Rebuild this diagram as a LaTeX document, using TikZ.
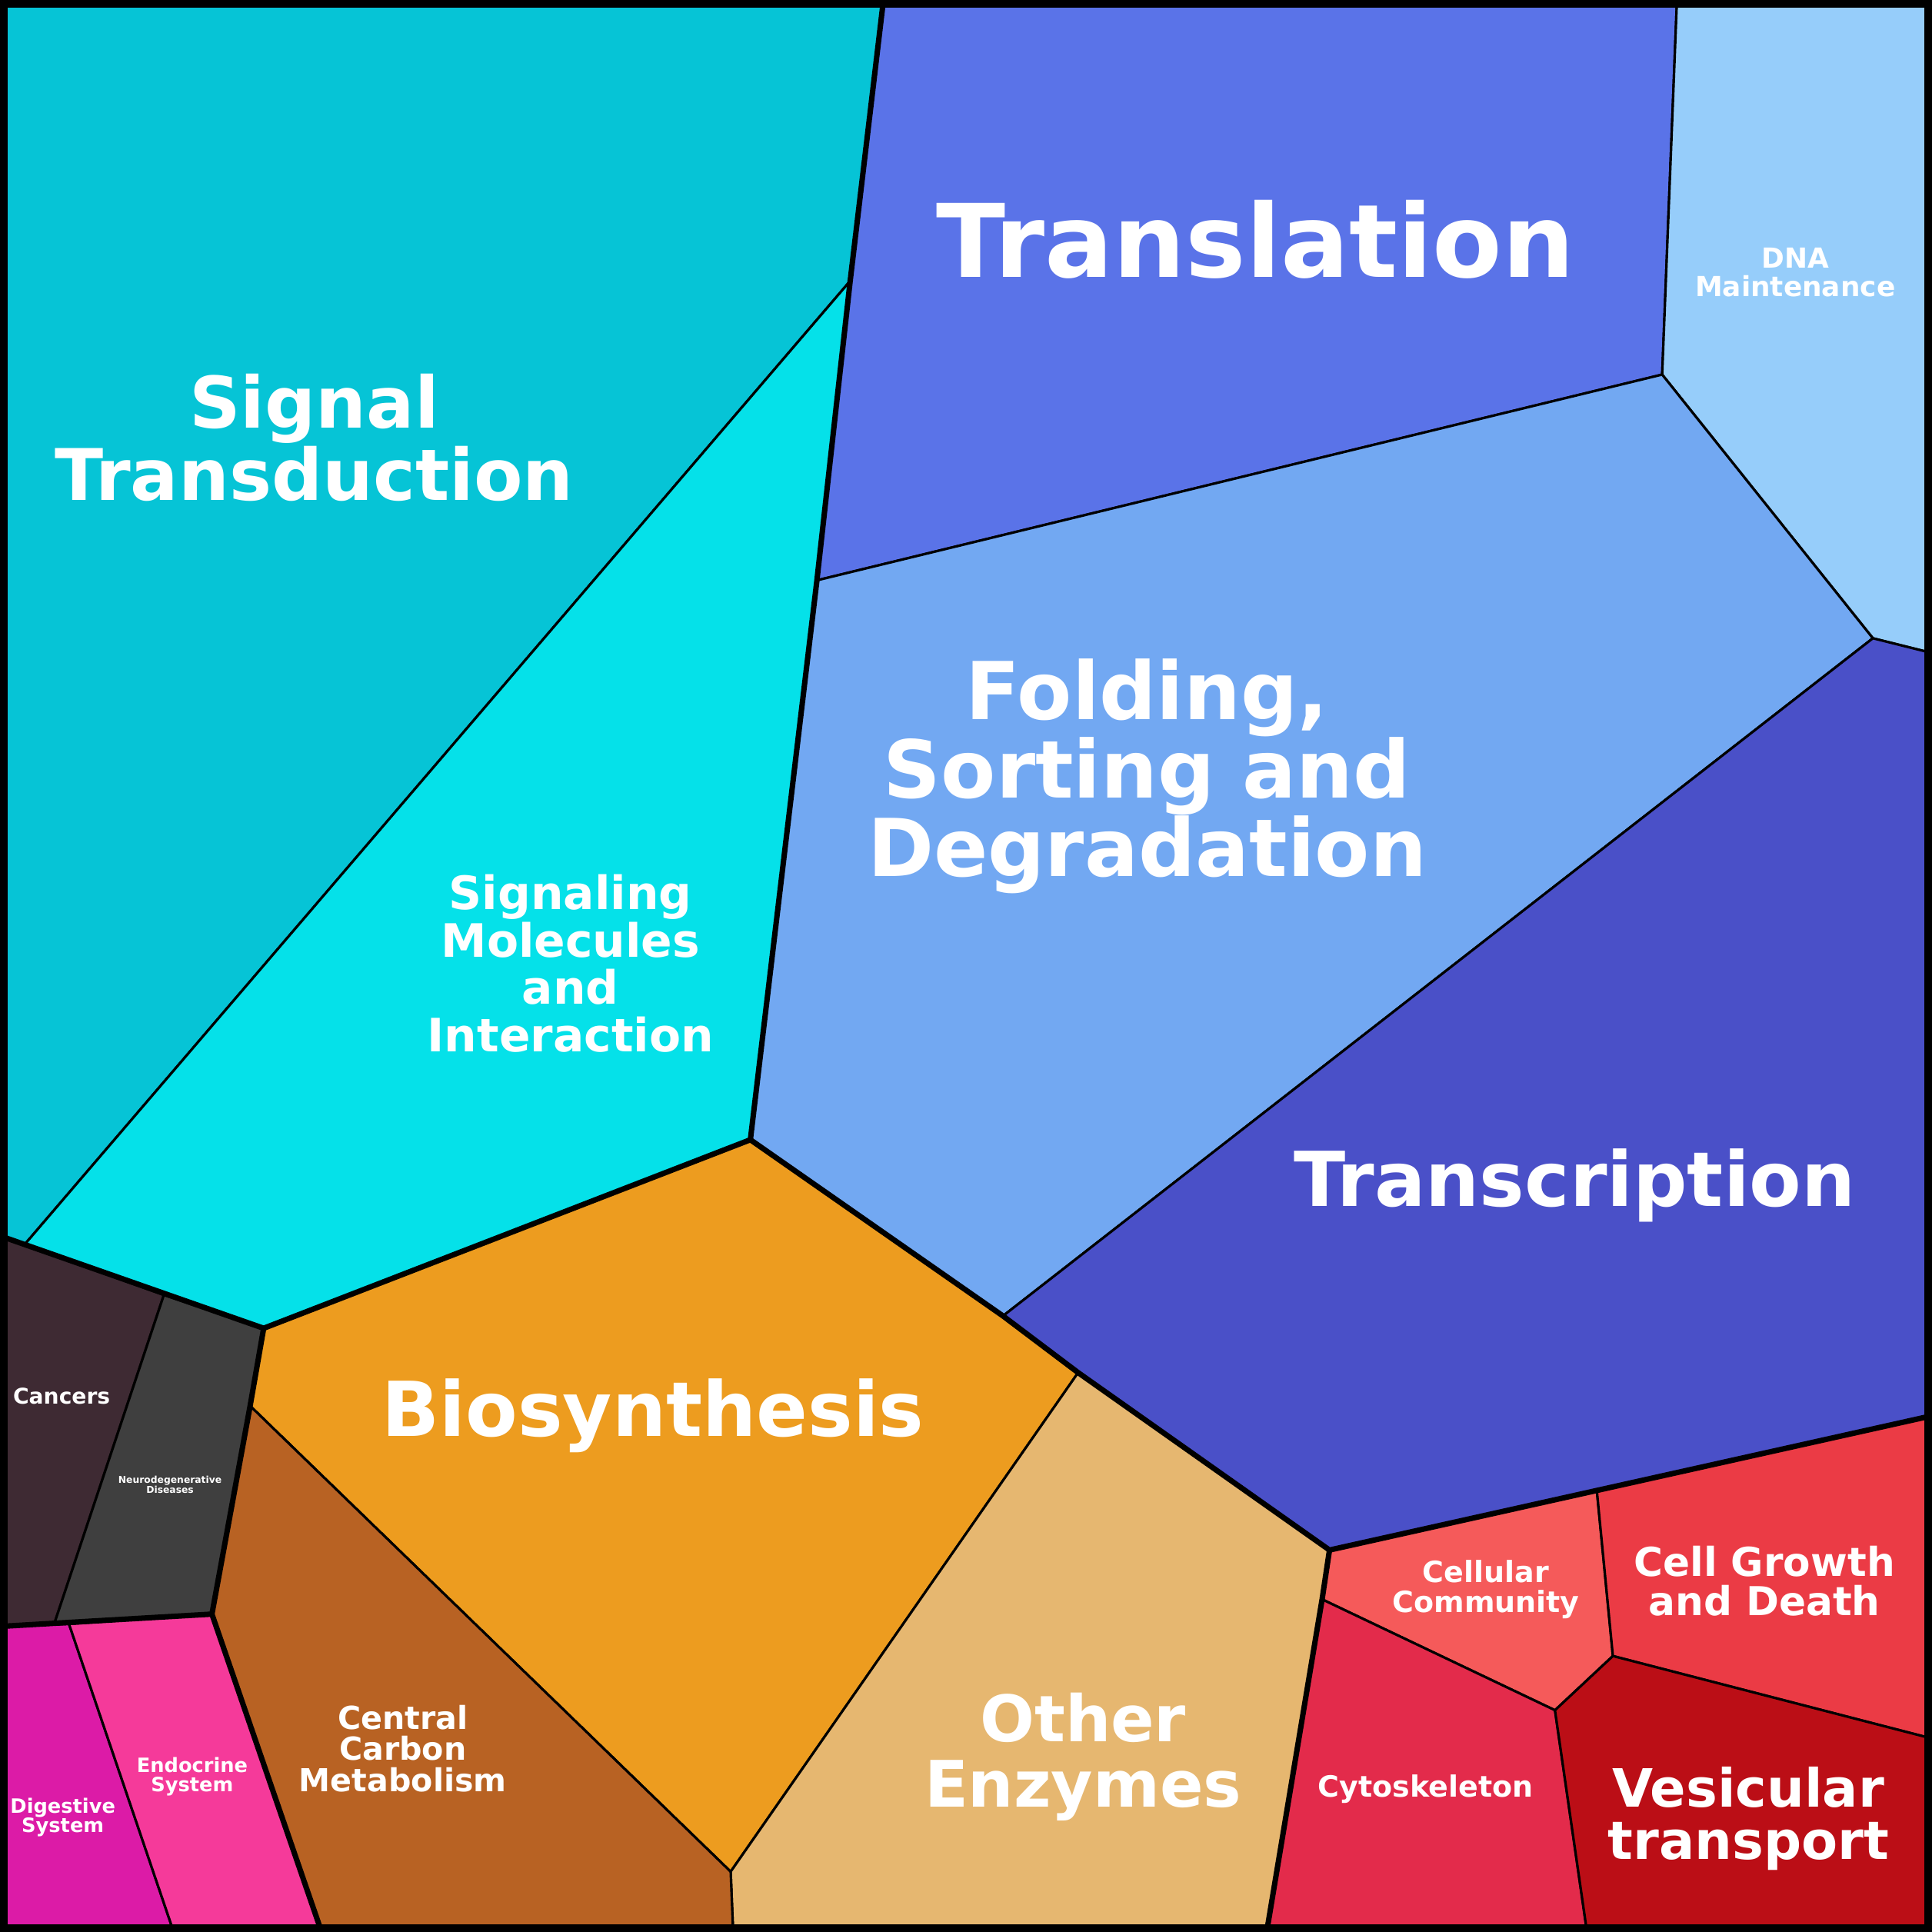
\documentclass[tikz,border=0pt]{standalone}
\usepackage{fontspec}
\setmainfont{DejaVu Sans}
\begin{document}
\begin{tikzpicture}[x=0.16mm,y=-0.16mm,line join=round,
 cell/.style={draw=black,line width=0.9pt},
 grp/.style={draw=black,line width=2pt},
 lbl/.style={text=white,font=\bfseries,align=center,inner sep=0pt}]
\useasboundingbox (0,0) rectangle (1568,1568);
\definecolor{cST}{HTML}{06C4D6}\definecolor{cSM}{HTML}{05E1E9}
\definecolor{cTL}{HTML}{5A73E8}\definecolor{cDNA}{HTML}{96CDFA}
\definecolor{cFO}{HTML}{72A8F2}\definecolor{cTR}{HTML}{4A50C8}
\definecolor{cBI}{HTML}{ED9C1F}\definecolor{cOE}{HTML}{E6B770}
\definecolor{cCC}{HTML}{B86223}\definecolor{cCA}{HTML}{3E2A33}
\definecolor{cND}{HTML}{3F3F3F}\definecolor{cDI}{HTML}{DC1BA7}
\definecolor{cEN}{HTML}{F53A9A}\definecolor{cCO}{HTML}{F55A5A}
\definecolor{cCG}{HTML}{EB3B45}\definecolor{cCY}{HTML}{E32B4B}
\definecolor{cVT}{HTML}{BB0E16}
\filldraw[cell,fill=cST] (0,0)--(717,0)--(690,228)--(20,1010)--(0,1003)--cycle;
\filldraw[cell,fill=cSM] (690,228)--(663,471)--(609,925)--(214,1078)--(20,1010)--cycle;
\filldraw[cell,fill=cTL] (717,0)--(1361,0)--(1349,304)--(663,471)--(690,228)--cycle;
\filldraw[cell,fill=cDNA] (1361,0)--(1568,0)--(1568,530)--(1520,518)--(1349,304)--cycle;
\filldraw[cell,fill=cFO] (663,471)--(1349,304)--(1520,518)--(814,1068)--(609,925)--cycle;
\filldraw[cell,fill=cTR] (1520,518)--(1568,530)--(1568,1149)--(1079,1258)--(875,1114)--(814,1068)--cycle;
\filldraw[cell,fill=cBI] (609,925)--(814,1068)--(875,1114)--(593,1519)--(203,1141)--(214,1078)--cycle;
\filldraw[cell,fill=cOE] (875,1114)--(1079,1258)--(1073,1298)--(1028,1568)--(595,1568)--(593,1519)--cycle;
\filldraw[cell,fill=cCC] (203,1141)--(593,1519)--(595,1568)--(261,1568)--(172,1310)--cycle;
\filldraw[cell,fill=cCA] (0,1003)--(133,1051)--(44,1318)--(0,1320)--cycle;
\filldraw[cell,fill=cND] (133,1051)--(214,1078)--(203,1141)--(172,1310)--(44,1318)--cycle;
\filldraw[cell,fill=cDI] (0,1320)--(56,1318)--(141,1568)--(0,1568)--cycle;
\filldraw[cell,fill=cEN] (56,1318)--(172,1310)--(261,1568)--(141,1568)--cycle;
\filldraw[cell,fill=cCO] (1079,1258)--(1296,1210)--(1309,1344)--(1262,1388)--(1073,1298)--cycle;
\filldraw[cell,fill=cCG] (1296,1210)--(1568,1149)--(1568,1411)--(1309,1344)--cycle;
\filldraw[cell,fill=cCY] (1073,1298)--(1262,1388)--(1288,1568)--(1028,1568)--cycle;
\filldraw[cell,fill=cVT] (1262,1388)--(1309,1344)--(1568,1411)--(1568,1568)--(1288,1568)--cycle;
% group borders
\draw[grp] (717,0)--(690,228)--(663,471)--(609,925)--(214,1078)--(0,1003);
\draw[grp] (609,925)--(814,1068)--(875,1114)--(1079,1258)--(1568,1149);
\draw[grp] (1079,1258)--(1073,1298)--(1028,1568);
\draw[grp] (214,1078)--(203,1141)--(172,1310)--(0,1320);
\draw[grp] (172,1310)--(261,1568);
\draw[line width=3pt] (3,3) rectangle (1565,1565);
% labels
\node[lbl,font=\bfseries\fontsize{26.3}{25}\selectfont] (lST) at (255,355) {Signal\\Transduction};
\node[lbl,font=\bfseries\fontsize{17}{17.5}\selectfont] (lSM) at (463,782) {Signaling\\Molecules\\and\\Interaction};
\node[lbl,font=\bfseries\fontsize{37.5}{37}\selectfont] (lTL) at (1019,194) {Translation};
\node[lbl,font=\bfseries\fontsize{10.2}{10.5}\selectfont] (lDNA) at (1457,221) {DNA\\Maintenance};
\node[lbl,font=\bfseries\fontsize{29.5}{29}\selectfont] (lFO) at (931,630) {Folding,\\Sorting and\\Degradation};
\node[lbl,font=\bfseries\fontsize{28}{28}\selectfont] (lTR) at (1278,962) {Transcription};
\node[lbl,font=\bfseries\fontsize{28}{28}\selectfont] (lBI) at (530,1149) {Biosynthesis};
\node[lbl,font=\bfseries\fontsize{23.7}{24}\selectfont] (lOE) at (879,1426) {Other\\Enzymes};
\node[lbl,font=\bfseries\fontsize{11.7}{11.5}\selectfont] (lCC) at (327,1419) {Central\\Carbon\\Metabolism};
\node[lbl,font=\bfseries\fontsize{8}{8}\selectfont] (lCA) at (50,1133) {Cancers};
\node[lbl,font=\bfseries\fontsize{3.5}{3.5}\selectfont] (lND) at (138,1205) {Neurodegenerative\\Diseases};
\node[lbl,font=\bfseries\fontsize{7.3}{7}\selectfont] (lDI) at (51,1475) {Digestive\\System};
\node[lbl,font=\bfseries\fontsize{7.3}{7}\selectfont] (lEN) at (156,1442) {Endocrine\\System};
\node[lbl,font=\bfseries\fontsize{10.8}{11}\selectfont] (lCO) at (1206,1290) {Cellular\\Community};
\node[lbl,font=\bfseries\fontsize{14.7}{14.5}\selectfont] (lCG) at (1432,1283) {Cell Growth\\and Death};
\node[lbl,font=\bfseries\fontsize{10.8}{11}\selectfont] (lCY) at (1157,1452) {Cytoskeleton};
\node[lbl,font=\bfseries\fontsize{19.5}{19.5}\selectfont] (lVT) at (1419,1476) {Vesicular\\transport};
\end{tikzpicture}
\end{document}
